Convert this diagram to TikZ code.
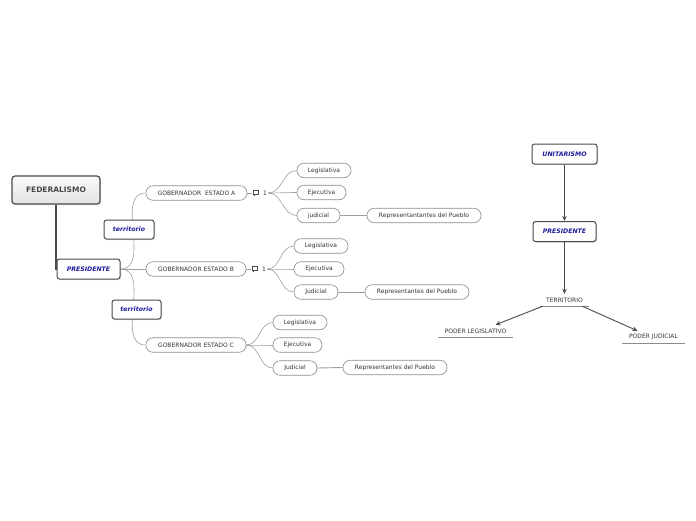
\documentclass[tikz,border=0pt]{standalone}
\usepackage{fontspec}
\setmainfont{DejaVu Sans}
\usetikzlibrary{arrows.meta,shadows,backgrounds}
\definecolor{boxline}{HTML}{4A4A4A}
\definecolor{pillline}{HTML}{8C8C8C}
\definecolor{branch}{HTML}{9E9E9E}
\definecolor{titleblue}{HTML}{1C1C9C}
\definecolor{pilltext}{HTML}{333333}
\tikzset{
  mainbox/.style={draw=boxline, line width=1.2pt, rounded corners=3pt, top color=gray!4, bottom color=gray!22,
    font=\fontsize{7.5}{9}\selectfont\bfseries, text=black!72, minimum width=88, minimum height=28,
    drop shadow={shadow xshift=1pt, shadow yshift=-1pt, opacity=0.25}},
  topicbox/.style={draw=boxline, line width=1pt, rounded corners=2.5pt, fill=white,
    font=\fontsize{6.2}{8}\selectfont\bfseries\itshape, text=titleblue, minimum height=20,
    drop shadow={shadow xshift=1pt, shadow yshift=-1pt, opacity=0.25}},
  pill/.style={draw=pillline, line width=0.6pt, rounded corners=7pt, fill=white, text=pilltext,
    font=\fontsize{6}{7}\selectfont, minimum height=14.5},
  plainlabel/.style={font=\fontsize{6}{7}\selectfont, text=pilltext, inner sep=1pt, minimum height=12},
  branchline/.style={draw=branch, line width=0.6pt},
  flow/.style={draw=boxline, line width=0.9pt, -{Stealth[length=5pt,width=4.5pt]}},
}
\begin{document}
\begin{tikzpicture}[x=1pt, y=-1pt]
  \useasboundingbox (0,0) rectangle (696,520);
  % federalismo
  \node[mainbox] (fed) at (56,190) {FEDERALISMO};
  \node[topicbox, minimum width=63] (presL) at (88.5,269) {PRESIDENTE};
  \node[topicbox, minimum width=50, minimum height=19] (terrA) at (129,229.5) {territorio};
  \node[topicbox, minimum width=49, minimum height=19] (terrC) at (136.5,309.5) {territorio};
  \node[pill, minimum width=101] (gobA) at (196.5,193) {GOBERNADOR\ \ ESTADO A};
  \node[pill, minimum width=100] (gobB) at (196,269) {GOBERNADOR ESTADO B};
  \node[pill, minimum width=100] (gobC) at (196,345) {GOBERNADOR ESTADO C};
  \node[plainlabel, anchor=west] (notaA) at (262,193) {1};
  \node[plainlabel, anchor=west] (notaB) at (261,269) {1};
  \draw[boxline, line width=0.9pt] (253,190.5) rectangle (258.5,194) (254.5,194) -- (254.5,196);
  \draw[boxline, line width=0.9pt] (252,266.5) rectangle (257.5,270) (253.5,270) -- (253.5,272);
  \node[pill, minimum width=54] (legA) at (324,170.5) {Legislativa};
  \node[pill, minimum width=49] (ejeA) at (321.5,192.5) {Ejecutiva};
  \node[pill, minimum width=43] (judA) at (318.5,215.5) {judicial};
  \node[pill, minimum width=114] (repA) at (424,215.5) {Representantantes del Pueblo};
  \node[pill, minimum width=54] (legB) at (321,246) {Legislativa};
  \node[pill, minimum width=50] (ejeB) at (319,269) {Ejecutiva};
  \node[pill, minimum width=44] (judB) at (316,292) {Judicial};
  \node[pill, minimum width=104] (repB) at (417,292) {Representantes del Pueblo};
  \node[pill, minimum width=54] (legC) at (300,322.5) {Legislativa};
  \node[pill, minimum width=49] (ejeC) at (297.5,345) {Ejecutiva};
  \node[pill, minimum width=44] (judC) at (295,368) {Judicial};
  \node[pill, minimum width=104] (repC) at (395,367.5) {Representantes del Pueblo};
  \draw[boxline, line width=1.5pt] (fed.south) |- (presL.west);
  \begin{scope}[on background layer]
    \draw[branchline] (presL.east) to[out=0, in=180] (gobA.west);
    \draw[branchline] (presL.east) -- (gobB.west);
    \draw[branchline] (presL.east) to[out=0, in=180] (gobC.west);
    \draw[branchline] (gobA.east) -- (252,193);
    \draw[branchline] (gobB.east) -- (251,269);
    \foreach \kid in {legA, ejeA, judA}
      \draw[branchline] (notaA.east) to[out=0, in=180] (\kid.west);
    \foreach \kid in {legB, ejeB, judB}
      \draw[branchline] (notaB.east) to[out=0, in=180] (\kid.west);
    \foreach \kid in {legC, ejeC, judC}
      \draw[branchline] (gobC.east) to[out=0, in=180] (\kid.west);
    \draw[branchline, line width=0.9pt] (judA.east) -- (repA.west);
    \draw[branchline, line width=0.9pt] (judB.east) -- (repB.west);
    \draw[branchline, line width=0.9pt] (judC.east) -- (repC.west);
  \end{scope}
  % unitarismo
  \node[topicbox, minimum width=65] (unit) at (564.5,154) {UNITARISMO};
  \node[topicbox, minimum width=63] (presR) at (564.5,231.5) {PRESIDENTE};
  \node[plainlabel, minimum width=49] (terrR) at (564.5,300) {TERRITORIO};
  \node[plainlabel, minimum width=75] (podL) at (475.5,331) {PODER LEGISLATIVO};
  \node[plainlabel, minimum width=63] (podJ) at (653.5,337) {PODER JUDICIAL};
  \draw[pillline, line width=0.7pt] (terrR.south west) -- (terrR.south east);
  \draw[pillline, line width=0.7pt] (podL.south west) -- (podL.south east);
  \draw[pillline, line width=0.7pt] (podJ.south west) -- (podJ.south east);
  \draw[flow] (unit.south) -- (presR.north);
  \draw[flow] (presR.south) -- (terrR.north);
  \draw[flow] ([xshift=3pt]terrR.south west) -- ([xshift=20pt]podL.north);
  \draw[flow] ([xshift=-7pt]terrR.south east) -- ([xshift=-16pt]podJ.north);
\end{tikzpicture}
\end{document}
